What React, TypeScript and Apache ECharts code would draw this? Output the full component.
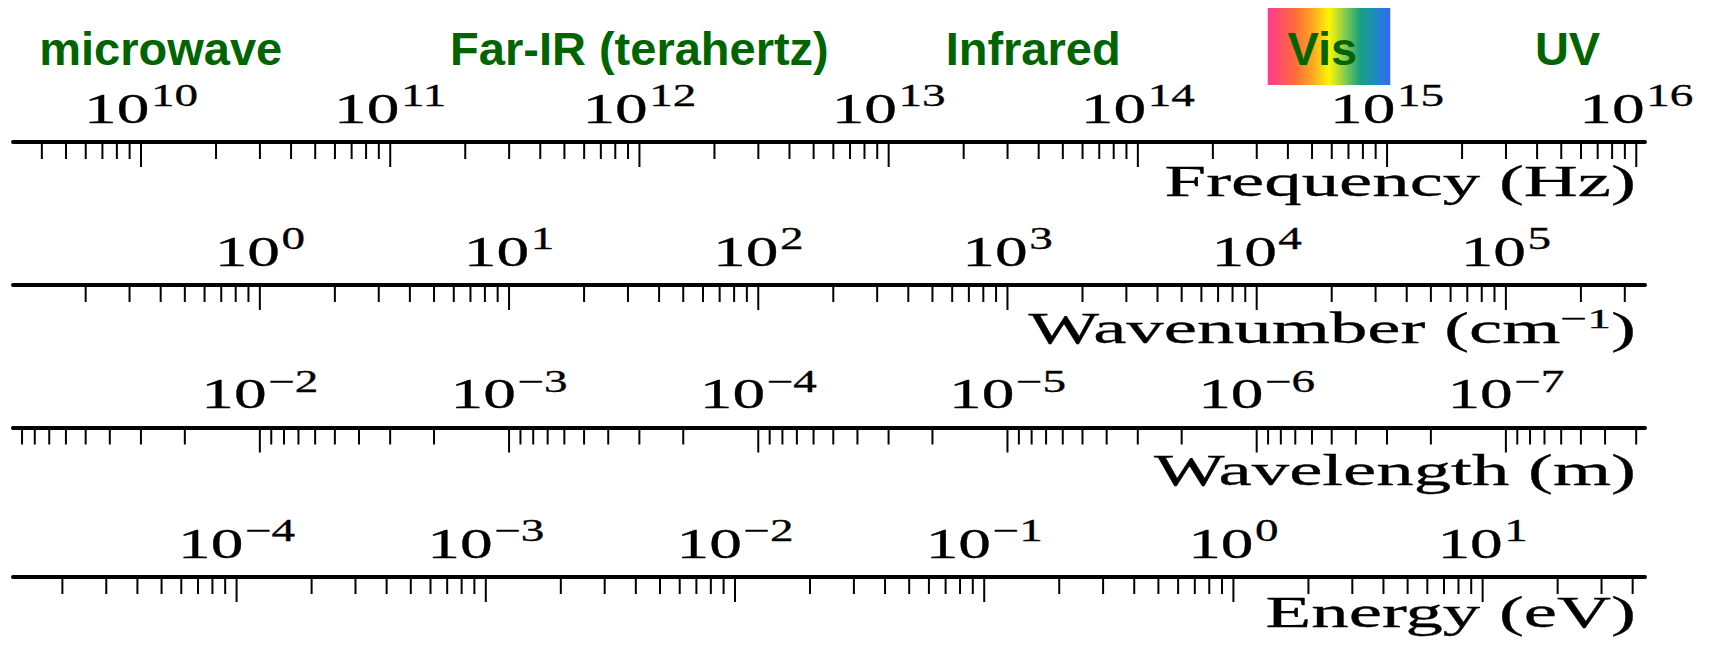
import { useEffect, useRef } from 'react';
import * as echarts from 'echarts';

// ---------------------------------------------------------------------------
// Data
// ---------------------------------------------------------------------------

// Physical constants used to express the shared frequency span in other units
const SPEED_OF_LIGHT_M = 2.99792458e8; // m/s
const SPEED_OF_LIGHT_CM = 2.99792458e10; // cm/s
const PLANCK_EV = 4.135667696e-15; // eV·s

// Frequency span covered by every ruler (Hz)
const frequencyRange = [3.064e9, 1.084e16];

// Powers of ten that carry a long tick and a label on each ruler
const frequencyExponents = [10, 11, 12, 13, 14, 15, 16];
const wavenumberExponents = [0, 1, 2, 3, 4, 5];
const wavelengthExponents = [-2, -3, -4, -5, -6, -7];
const energyExponents = [-4, -3, -2, -1, 0, 1];

// Short ticks sit at these multiples of each power of ten
const minorMultiples = [2, 3, 4, 5, 6, 7, 8, 9];

// Spectral regions named above the frequency ruler, at their centre frequency (Hz)
const bandNames = ['microwave', 'Far-IR (terahertz)', 'Infrared', 'Vis', 'UV'];
const bandCenters = [1.2e10, 1.0e12, 3.8e13, 5.5e14, 5.3e15];

// Frequency span of the rainbow swatch behind "Vis" (Hz)
const visibleSpan = [3.32e14, 1.03e15];

// ---------------------------------------------------------------------------
// Rulers
// ---------------------------------------------------------------------------

type Ruler = {
  title: string;
  titleSup?: string;
  titleTail?: string;
  min: number;
  max: number;
  inverse: boolean;
  exponents: number[];
};

const [fLo, fHi] = frequencyRange;

const rulers: Ruler[] = [
  { title: 'Frequency (Hz)', min: fLo, max: fHi, inverse: false, exponents: frequencyExponents },
  {
    title: 'Wavenumber (cm',
    titleSup: '\u22121',
    titleTail: ')',
    min: fLo / SPEED_OF_LIGHT_CM,
    max: fHi / SPEED_OF_LIGHT_CM,
    inverse: false,
    exponents: wavenumberExponents,
  },
  {
    title: 'Wavelength (m)',
    min: SPEED_OF_LIGHT_M / fHi,
    max: SPEED_OF_LIGHT_M / fLo,
    inverse: true,
    exponents: wavelengthExponents,
  },
  { title: 'Energy (eV)', min: PLANCK_EV * fLo, max: PLANCK_EV * fHi, inverse: false, exponents: energyExponents },
];

// ---------------------------------------------------------------------------
// Layout and styling
// ---------------------------------------------------------------------------

const WIDTH = 1722;
const HEIGHT = 645;

const SERIF = '"Liberation Serif", "Times New Roman", Times, serif';
const SANS = '"Liberation Sans", Arial, Helvetica, sans-serif';

const RULER_LEFT = 13;
const RULER_RIGHT = 77;
const LINE_Y = [142, 285, 427.5, 577];
const LINE_WIDTH = 4;

const TICK_WIDTH = 2;
const MINOR_TICK = 17;
const MAJOR_TICK = 25;

const LABEL_BASE_SIZE = 43;
const LABEL_SUP_SIZE = 31;
const LABEL_STRETCH = 1.52;
const LABEL_LIFT = 19; // axis line to label baseline
const LABEL_SUP_RAISE = 17;
const LABEL_SUP_GAP = 1;

const TITLE_SIZE = 44;
const TITLE_SUP_SIZE = 28;
const TITLE_STRETCH = 1.7;
const TITLE_SUP_RAISE = 15;
const TITLE_RIGHT = 1636;
const TITLE_BASELINE = [196, 343, 485, 627];

// a hairline outline gives the serif type a little more weight
const SERIF_OUTLINE = 0.3;

const BAND_SIZE = 47;
const BAND_FONT = `bold ${BAND_SIZE}px ${SANS}`;
const BAND_COLOR = '#006400';
const BAND_LIFT = 77; // frequency line to band-name baseline
const SWATCH_TOP = 134; // above the frequency line
const SWATCH_HEIGHT = 77;

// distance from the alphabetic baseline up to the "central" baseline, per em
const SERIF_CENTRAL = 0.3375;
const SANS_CENTRAL = 0.3465;

let measureCtx: CanvasRenderingContext2D | null = null;
function measure(text: string, font: string): number {
  if (!measureCtx) measureCtx = document.createElement('canvas').getContext('2d');
  if (!measureCtx) return text.length * 20;
  measureCtx.font = font;
  return measureCtx.measureText(text).width;
}

function serifFont(size: number) {
  return `${size}px ${SERIF}`;
}

// A text element placed by its anchor and alphabetic baseline
function textAt(
  x: number,
  baseline: number,
  text: string,
  size: number,
  font: string,
  fill = '#000',
  central = SERIF_CENTRAL,
  align = 'left',
  outline = SERIF_OUTLINE,
) {
  const style: any = {
    text,
    font,
    fill,
    textFill: fill,
    align,
    textAlign: align,
    verticalAlign: 'middle',
    textVerticalAlign: 'middle',
  };
  if (outline > 0) {
    style.stroke = fill;
    style.textStroke = fill;
    style.lineWidth = outline;
    style.textStrokeWidth = outline;
  }
  return { type: 'text', x, y: baseline - central * size, style };
}

// "10" with a raised exponent, centred on x, baseline at y
function powerLabel(x: number, y: number, exp: number) {
  const sup = exp < 0 ? '\u2212' + Math.abs(exp) : String(exp);
  const baseFont = serifFont(LABEL_BASE_SIZE);
  const supFont = serifFont(LABEL_SUP_SIZE);
  const wb = measure('10', baseFont);
  const ws = measure(sup, supFont);
  const total = wb + LABEL_SUP_GAP + ws;
  return {
    type: 'group',
    x,
    y,
    scaleX: LABEL_STRETCH,
    children: [
      textAt(-total / 2, 0, '10', LABEL_BASE_SIZE, baseFont),
      textAt(-total / 2 + wb + LABEL_SUP_GAP, -LABEL_SUP_RAISE, sup, LABEL_SUP_SIZE, supFont),
    ],
  };
}

// Ruler name, right-aligned, with an optional superscript part
function rulerTitle(r: Ruler, baseline: number) {
  const mainFont = serifFont(TITLE_SIZE);
  const supFont = serifFont(TITLE_SUP_SIZE);
  const parts: { text: string; sup: boolean }[] = [{ text: r.title, sup: false }];
  if (r.titleSup) parts.push({ text: r.titleSup, sup: true });
  if (r.titleTail) parts.push({ text: r.titleTail, sup: false });
  const widths = parts.map((p) => measure(p.text, p.sup ? supFont : mainFont));
  const total = widths.reduce((a, b) => a + b, 0);
  let cursor = -total;
  const children = parts.map((p, i) => {
    const el = p.sup
      ? textAt(cursor, -TITLE_SUP_RAISE, p.text, TITLE_SUP_SIZE, supFont)
      : textAt(cursor, 0, p.text, TITLE_SIZE, mainFont);
    cursor += widths[i];
    return el;
  });
  return { type: 'group', x: TITLE_RIGHT, y: baseline, scaleX: TITLE_STRETCH, children };
}

// Tick values of a ruler: each power of ten and its multiples inside the span
function rulerTicks(r: Ruler): number[][] {
  const out: number[][] = [];
  const lo = Math.floor(Math.log10(r.min));
  const hi = Math.ceil(Math.log10(r.max));
  for (let e = lo; e <= hi; e++) {
    const decade = Math.pow(10, e);
    out.push([decade, 1, 1]);
    minorMultiples.forEach((m) => out.push([m * decade, 1, 0]));
  }
  return out.filter((d) => d[0] >= r.min && d[0] <= r.max);
}

function buildOption(): any {
  const grid = rulers.map((_, i) => ({
    left: RULER_LEFT,
    right: RULER_RIGHT,
    top: LINE_Y[i],
    height: 40,
    containLabel: false,
    outerBoundsMode: 'none',
  }));

  const xAxis = rulers.map((r, i) => ({
    type: 'log',
    gridIndex: i,
    min: r.min,
    max: r.max,
    inverse: r.inverse,
    position: 'top',
    axisLine: { show: true, onZero: false, lineStyle: { color: '#000', width: LINE_WIDTH } },
    axisTick: { show: false },
    axisLabel: { show: false },
    splitLine: { show: false },
    minorTick: { show: false },
  }));

  const yAxis = rulers.map((_, i) => ({ type: 'value', gridIndex: i, min: 0, max: 1, show: false }));

  const series: any[] = [];

  rulers.forEach((r, i) => {
    series.push({
      type: 'custom',
      name: `ticks-${i}`,
      xAxisIndex: i,
      yAxisIndex: i,
      clip: false,
      silent: true,
      encode: { x: 0, y: 1 },
      data: rulerTicks(r),
      renderItem: (_p: any, api: any) => {
        const pt = api.coord([api.value(0), 1]);
        const len = api.value(2) === 1 ? MAJOR_TICK : MINOR_TICK;
        return {
          type: 'line',
          shape: { x1: pt[0], y1: pt[1], x2: pt[0], y2: pt[1] + len },
          style: { stroke: '#000', lineWidth: TICK_WIDTH },
        };
      },
    });

    series.push({
      type: 'custom',
      name: `labels-${i}`,
      xAxisIndex: i,
      yAxisIndex: i,
      clip: false,
      silent: true,
      encode: { x: 0, y: 1 },
      data: r.exponents.map((e) => [Math.pow(10, e), 1, e]),
      renderItem: (_p: any, api: any) => {
        const pt = api.coord([api.value(0), 1]);
        return powerLabel(pt[0], pt[1] - LABEL_LIFT, api.value(2));
      },
    });
  });

  // rainbow swatch behind "Vis"
  series.push({
    type: 'custom',
    name: 'visible-swatch',
    xAxisIndex: 0,
    yAxisIndex: 0,
    clip: false,
    silent: true,
    z: 1,
    encode: { x: 0, y: 1 },
    data: [[visibleSpan[0], 1, visibleSpan[1]]],
    renderItem: (_p: any, api: any) => {
      const a = api.coord([api.value(0), 1]);
      const b = api.coord([api.value(2), 1]);
      return {
        type: 'rect',
        shape: { x: a[0], y: a[1] - SWATCH_TOP, width: b[0] - a[0], height: SWATCH_HEIGHT },
        style: {
          fill: new echarts.graphic.LinearGradient(0, 0, 1, 0, [
            { offset: 0, color: '#ff3a8f' },
            { offset: 0.22, color: '#ff6a3c' },
            { offset: 0.36, color: '#ffa424' },
            { offset: 0.5, color: '#fff500' },
            { offset: 0.62, color: '#8fd04d' },
            { offset: 0.75, color: '#1aa07f' },
            { offset: 0.86, color: '#1a8fb3' },
            { offset: 1, color: '#3367ff' },
          ]),
        },
      };
    },
  });

  series.push({
    type: 'custom',
    name: 'bands',
    xAxisIndex: 0,
    yAxisIndex: 0,
    clip: false,
    silent: true,
    z: 3,
    encode: { x: 0, y: 1 },
    data: bandCenters.map((c) => [c, 1]),
    renderItem: (p: any, api: any) => {
      const pt = api.coord([api.value(0), 1]);
      return textAt(pt[0], pt[1] - BAND_LIFT, bandNames[p.dataIndex], BAND_SIZE, BAND_FONT, BAND_COLOR, SANS_CENTRAL, 'center', 0);
    },
  });

  const graphic = rulers.map((r, i) => rulerTitle(r, TITLE_BASELINE[i]));

  return {
    animation: false,
    backgroundColor: '#ffffff',
    grid,
    xAxis,
    yAxis,
    series,
    graphic,
  };
}

export default function App() {
  const ref = useRef<HTMLDivElement>(null);

  useEffect(() => {
    if (!ref.current) return;
    const chart = echarts.init(ref.current, null, { renderer: 'svg' });
    chart.setOption(buildOption());
    return () => chart.dispose();
  }, []);

  return (
    <div
      ref={ref}
      style={{ position: 'absolute', left: 0, top: 0, width: WIDTH, height: HEIGHT }}
    />
  );
}
